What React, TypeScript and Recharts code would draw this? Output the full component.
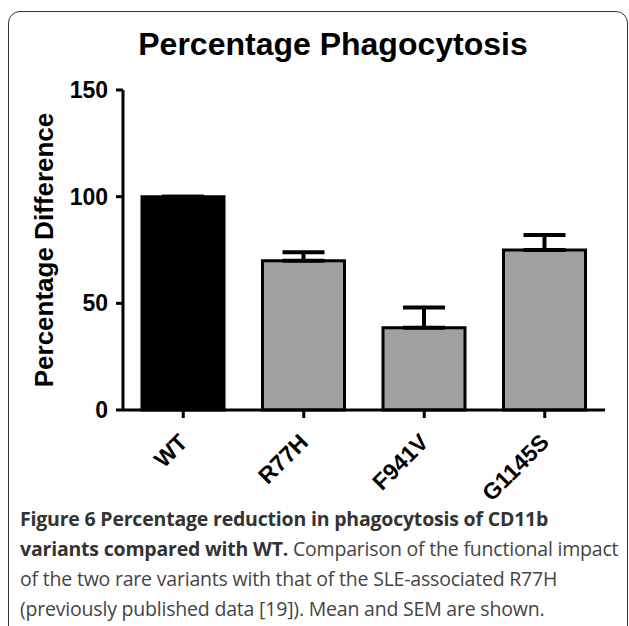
import React from 'react';
import { BarChart, Bar, XAxis, YAxis, ErrorBar, Cell, Label } from 'recharts';

const categories = ['WT', 'R77H', 'F941V', 'G1145S'];
const means = [100, 70, 38.5, 75];
const sems = [0, 4, 9.5, 7];
const barColors = ['#000000', '#a0a0a0', '#a0a0a0', '#a0a0a0'];
const yTicks = [0, 50, 100, 150];

const chartData = categories.map((name, i) => ({
  name,
  value: means[i],
  // only the upper half of the error bar is drawn
  err: [0, sems[i]],
}));

const font = '"Liberation Sans", Arial, Helvetica, sans-serif';

const XTick = ({ x, y, payload }: any) => (
  <g transform={`translate(${x},${y})`}>
    <text
      x={0}
      y={18}
      dy="0.35em"
      textAnchor="end"
      transform="rotate(-45 0 18)"
      fontFamily={font}
      fontWeight="bold"
      fontSize={23}
      fill="#000"
    >
      {payload.value}
    </text>
  </g>
);

const App: React.FC = () => {
  return (
    <div style={{ position: 'absolute', left: 0, top: 0, width: 629, height: 626, overflow: 'hidden', background: '#fff' }}>
      {/* rounded frame, runs off the right and bottom edge */}
      <div
        style={{
          position: 'absolute',
          left: 8,
          top: 11,
          width: 620,
          height: 660,
          border: '1.5px solid #333',
          borderRadius: 12,
          boxSizing: 'border-box',
        }}
      />
      <div
        style={{
          position: 'absolute',
          left: 0,
          width: 666,
          top: 26,
          textAlign: 'center',
          fontFamily: font,
          fontWeight: 'bold',
          fontSize: 32,
          color: '#000',
        }}
      >
        Percentage Phagocytosis
      </div>
      <div style={{ position: 'absolute', left: 0, top: 0 }}>
        <BarChart
          width={629}
          height={505}
          data={chartData}
          margin={{ top: 90, right: 24, left: 20, bottom: 0 }}
          barSize={82}
        >
          <XAxis
            dataKey="name"
            height={95}
            axisLine={{ stroke: '#000', strokeWidth: 3 }}
            tickLine={{ stroke: '#000', strokeWidth: 3 }}
            tickSize={8}
            tick={<XTick />}
            interval={0}
          />
          <YAxis
            width={103}
            domain={[0, 150]}
            ticks={yTicks}
            axisLine={{ stroke: '#000', strokeWidth: 3 }}
            tickLine={{ stroke: '#000', strokeWidth: 3 }}
            tickSize={7}
            tickMargin={8}
            tick={{ fill: '#000', fontSize: 23, fontWeight: 'bold', fontFamily: font }}
          >
            <Label
              value="Percentage Difference"
              angle={-90}
              position="insideLeft"
              offset={24}
              style={{ textAnchor: 'middle', fill: '#000', fontSize: 26, fontWeight: 'bold', fontFamily: font }}
            />
          </YAxis>
          <Bar dataKey="value" stroke="#000" strokeWidth={3} isAnimationActive={false}>
            {chartData.map((d, i) => (
              <Cell key={d.name} fill={barColors[i]} />
            ))}
            <ErrorBar dataKey="err" width={21} stroke="#000" strokeWidth={4} direction="y" />
          </Bar>
        </BarChart>
      </div>
      <div
        style={{
          position: 'absolute',
          left: 20,
          top: 504,
          fontFamily: '"Open Sans", sans-serif',
          fontSize: 19.5,
          letterSpacing: '-0.2px',
          lineHeight: '30px',
          color: '#444',
          whiteSpace: 'nowrap',
        }}
      >
        <b style={{ color: '#333' }}>Figure 6 Percentage reduction in phagocytosis of CD11b</b>
        <br />
        <b style={{ color: '#333' }}>variants compared with WT.</b> Comparison of the functional impact
        <br />
        of the two rare variants with that of the SLE-associated R77H
        <br />
        (previously published data [19]). Mean and SEM are shown.
      </div>
    </div>
  );
};

export default App;
